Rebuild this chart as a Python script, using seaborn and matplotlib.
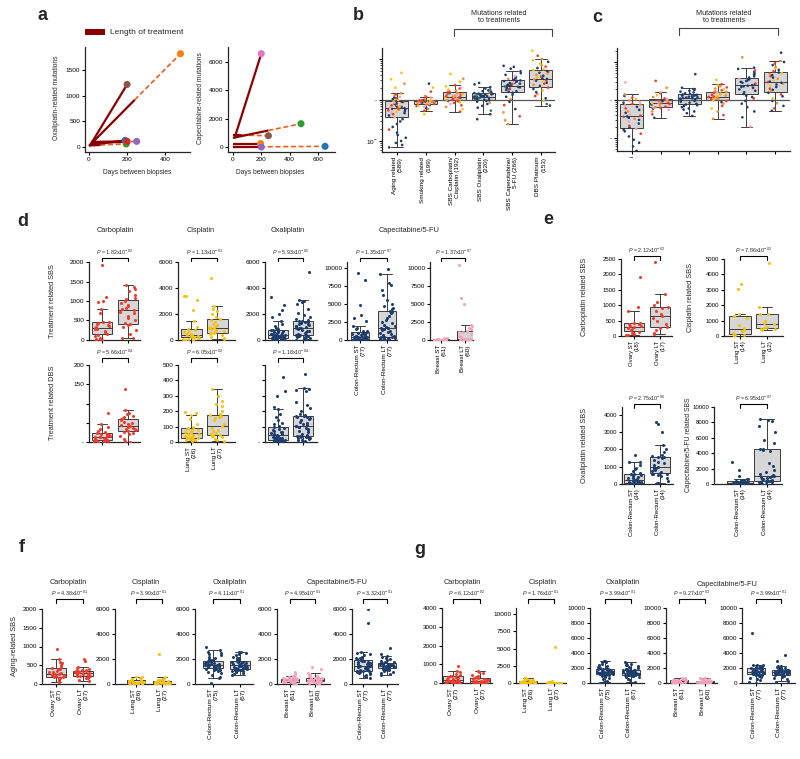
import numpy as np
import pandas as pd
import matplotlib
matplotlib.use("Agg")
import matplotlib.pyplot as plt
import matplotlib.transforms as mtransforms
from matplotlib.patches import Rectangle
from matplotlib.ticker import NullFormatter
import seaborn as sns

# ---------------- panel a: mutations vs days between biopsies ----------------
a_ox_colors = ["tab:blue", "tab:orange", "tab:green", "tab:red", "tab:purple", "tab:brown"]
a_ox_start_day = [0, 0, 0, 10, 15, 10]
a_ox_start = [40, 20, 30, 100, 80, 60]
a_ox_treat_day = [190, 240, 60, 200, 180, 200]
a_ox_treat_mut = [130, 920, 40, 110, 100, 1220]
a_ox_days = [190, 480, 195, 200, 250, 200]
a_ox_end = [130, 1820, 60, 110, 110, 1220]

a_cap_colors = ["tab:blue", "tab:orange", "tab:green", "tab:purple", "tab:brown", "tab:pink"]
a_cap_start_day = [0, 0, 0, 0, 0, 10]
a_cap_start = [0, 250, 650, 0, 850, 600]
a_cap_treat_day = [30, 195, 250, 200, 60, 200]
a_cap_treat_mut = [5, 250, 1170, 0, 840, 6600]
a_cap_days = [650, 195, 480, 200, 250, 200]
a_cap_end = [50, 250, 1650, 0, 800, 6600]

# ---------------- panel b: fold change per signature group ----------------
b_labels = ["Aging related\n(589)", "Smoking related\n(199)", "SBS Carboplatin/\nCisplatin (192)",
            "SBS Oxaliplatin\n(220)", "SBS Capecitabine/\n5-FU (266)", "DBS Platinum\n(153)"]
b_aging = [0.07, 0.08, 0.09, 0.1, 0.12, 0.14, 0.16, 0.19, 0.22, 0.26, 0.3, 0.34, 0.38,
           0.42, 0.45, 0.48, 0.5, 0.52, 0.54, 0.56, 0.58, 0.6, 0.61, 0.62, 0.63,
           0.64, 0.66, 0.68, 0.7, 0.72, 0.74, 0.77, 0.8, 0.83, 0.86, 0.89, 0.9, 0.94,
           1.0, 1.05, 1.1, 1.15, 1.2, 1.3, 1.38, 1.45, 2.0, 2.5, 3.2, 4.6]
b_aging_type = "NNNNNNNRNNNNP" "NRNPYNRONNRN" "PRNYNRONNPRNY" "YNRNPOROYOYY"
b_smoking = [0.45, 0.55, 0.6, 0.64, 0.68, 0.71, 0.73, 0.75, 0.77, 0.78,
             0.8, 0.82, 0.84, 0.86, 0.87, 0.88, 0.89, 0.9, 0.91, 0.92,
             0.93, 0.94, 0.94, 0.95, 0.95, 0.96, 0.96, 0.97, 0.97, 0.97,
             0.98, 1.0, 1.05, 1.1, 1.15, 1.2, 1.25, 1.6, 2.0, 2.5]
b_smoking_type = "YRONPRYNOR" "RPONYRGORN" "OPRNYROPNR" "RNOYPRORYN"
b_carbo = [0.52, 0.6, 0.68, 0.74, 0.8, 0.85, 0.88, 0.91, 0.94, 0.96,
           0.98, 1.0, 1.03, 1.06, 1.09, 1.12, 1.14, 1.16, 1.18, 1.2,
           1.22, 1.25, 1.28, 1.31, 1.35, 1.39, 1.43, 1.47, 1.5, 1.54,
           1.6, 1.7, 1.8, 1.9, 2.0, 2.15, 2.3, 2.8, 3.3, 4.3]
b_carbo_type = "RYORPRYOGR" "ORYRPONRYR" "YROPRYRGOR" "ROYRPYRYOY"
b_oxali = [0.34, 0.45, 0.55, 0.65, 0.72, 0.8, 0.86, 0.91, 0.95, 0.99,
           1.02, 1.05, 1.08, 1.1, 1.12, 1.14, 1.16, 1.18, 1.19, 1.2,
           1.21, 1.23, 1.25, 1.27, 1.29, 1.32, 1.35, 1.38, 1.41, 1.43,
           1.47, 1.52, 1.58, 1.65, 1.72, 1.8, 1.9, 2.05, 2.4, 2.6]
b_oxali_type = "NNGNNNONNN" "NNNGNNNNON" "NNNNGNNNNN" "NONNNGNNNN"
b_cape = [0.26, 0.32, 0.4, 0.5, 0.6, 0.75, 0.9, 1.05, 1.2, 1.35, 1.5,
          1.57, 1.63, 1.7, 1.77, 1.84, 1.9, 1.97, 2.03, 2.09, 2.14, 2.19,
          2.23, 2.3, 2.37, 2.44, 2.5, 2.58, 2.66, 2.74, 2.82, 2.9, 2.96,
          3.0, 3.1, 3.25, 3.4, 3.6, 3.8, 4.1, 4.5, 5.0, 5.8, 6.4, 6.8]
b_cape_type = "OORONRNONNN" "NNPNNRNNNGN" "NNNRNNNPNNN" "NNONNPNNNNNN"
b_dbs = [0.73, 0.8, 0.95, 1.1, 1.25, 1.4, 1.55, 1.7, 1.85, 2.0,
         2.1, 2.2, 2.35, 2.5, 2.65, 2.8, 2.95, 3.05, 3.15, 3.25,
         3.35, 3.5, 3.7, 3.9, 4.1, 4.35, 4.6, 4.85, 5.1, 5.3,
         5.6, 6.0, 6.5, 7.0, 7.7, 8.5, 9.3, 10.0, 12.0, 15.9]
b_dbs_type = "NGYNRONYNR" "YNORNYNRON" "NYRNOYNRNY" "YNROYNYORY"

# ---------------- panel c ----------------
c_aging = [0.046, 0.06, 0.075, 0.09, 0.11, 0.13, 0.15, 0.165, 0.175,
           0.19, 0.21, 0.24, 0.27, 0.3, 0.32, 0.34, 0.36, 0.37,
           0.39, 0.42, 0.46, 0.5, 0.55, 0.6, 0.66, 0.72, 0.76,
           0.8, 0.85, 0.9, 0.97, 1.05, 1.15, 1.28, 1.41, 2.9]
c_aging_type = "NNNNNRNNP" "NRNPNONRN" "RPNONRNPO" "RNPOYRNOP"
c_smoking = [0.34, 0.42, 0.5, 0.55, 0.59, 0.61, 0.63, 0.64,
             0.67, 0.7, 0.73, 0.76, 0.79, 0.82, 0.84,
             0.86, 0.88, 0.91, 0.94, 0.97, 1.0, 1.03,
             1.06, 1.1, 1.2, 1.35, 1.5, 1.62, 2.1, 3.2]
c_smoking_type = "NROPNRPO" "RPONRYP" "ORPNROY" "PROYRPOR"
c_carbo = [0.38, 0.45, 0.5, 0.56, 0.6, 0.65, 0.69, 0.73, 0.76,
           0.8, 0.85, 0.9, 0.95, 1.0, 1.04, 1.08, 1.11, 1.14,
           1.16, 1.19, 1.22, 1.25, 1.28, 1.31, 1.34, 1.37, 1.4,
           1.45, 1.5, 1.58, 1.66, 1.75, 1.85, 1.95, 2.1, 4.8]
c_carbo_type = "NNNNNNNNN" "NNNNNNNNN" "NNNNNNNNN" "NNNNNNNNN"
c_oxali = [0.32, 0.4, 0.5, 0.6, 0.7, 0.8, 0.88, 0.94, 0.99,
           1.02, 1.05, 1.08, 1.11, 1.14, 1.16, 1.18, 1.2, 1.21,
           1.23, 1.27, 1.32, 1.37, 1.42, 1.48, 1.54, 1.6, 1.64,
           1.7, 1.8, 1.9, 2.0, 2.15, 2.3, 2.45, 2.6, 3.4]
c_oxali_type = "OROYRONRO" "YRORPOYRO" "RYOROYRPO" "ORYOROYRY"
c_cape = [0.2, 0.35, 0.5, 0.65, 0.8, 0.95, 1.1, 1.2, 1.3,
          1.45, 1.6, 1.75, 1.9, 2.0, 2.1, 2.2, 2.3, 2.38,
          2.45, 2.55, 2.7, 2.85, 3.0, 3.15, 3.3, 3.5, 3.65,
          3.9, 4.2, 4.6, 5.0, 5.5, 6.0, 6.6, 7.1, 13.3]
c_cape_type = "PNNNNNRNN" "NNNNPNNNN" "NNRNNNNNP" "NNNNNRNNO"
c_dbs = [0.52, 0.6, 0.7, 0.82, 0.95, 1.1, 1.25, 1.4, 1.55,
         1.7, 1.85, 2.0, 2.2, 2.4, 2.55, 2.7, 2.85, 2.95,
         3.05, 3.3, 3.6, 3.9, 4.2, 4.5, 4.8, 5.1, 5.3,
         5.7, 6.2, 6.8, 7.5, 8.3, 9.2, 10.0, 10.8, 17.6]
c_dbs_type = "NRNONYNRN" "ONRNYNONR" "NYONRNOYN" "RNYONRNON"

# ---------------- panel d: treatment related SBS / DBS ----------------
d_carbo_sbs_st = [5, 10, 20, 30, 60, 100, 140, 160, 200, 240, 270, 290, 310, 320, 340, 370, 390,
                  420, 440, 450, 460, 700, 800, 980, 1000, 1100, 1920]
d_carbo_sbs_lt = [40, 60, 150, 250, 330, 380, 410, 430, 500, 560, 620, 680, 730, 770, 790, 820, 860,
                  900, 960, 1000, 1040, 1080, 1150, 1250, 1300, 1350, 1400]
d_cis_sbs_st = [10, 30, 60, 100, 150, 180, 200, 220, 250, 300, 330, 370, 390, 410, 450, 500, 600,
                700, 800, 870, 1000, 1450, 2300, 3100, 3350, 3400]
d_cis_sbs_lt = [80, 150, 250, 350, 450, 500, 540, 560, 620, 700, 780, 850, 900, 950, 980, 1050, 1150,
                1250, 1400, 1550, 1650, 1800, 2000, 2200, 2400, 2600, 4750]
d_ox_sbs_st = [0, 10, 20, 30, 40, 60, 80, 100, 120, 140, 160, 180, 200, 220, 240, 260, 280, 300, 320,
               340, 350, 370, 380, 400, 420, 450, 480, 510, 540, 580, 620, 660, 700, 740, 800, 880,
               950, 1050, 1200, 1460, 1800, 2000, 2300, 2700, 3300]
d_ox_sbs_lt = [0, 30, 60, 100, 150, 200, 240, 280, 310, 340, 360, 380, 420, 480, 540, 600, 660, 720,
               780, 840, 890, 920, 950, 1000, 1050, 1100, 1150, 1200, 1260, 1320, 1380, 1420, 1440,
               1460, 1500, 1600, 1750, 1900, 2100, 2400, 2800, 2950, 3000, 3050, 5200]
d_cape_colon_st = [0, 0, 10, 20, 30, 40, 50, 60, 70, 90, 110, 130, 150, 180, 200, 230, 260, 290, 320,
                   350, 380, 420, 460, 500, 560, 620, 680, 740, 800, 860, 920, 980, 1020, 1100, 1200,
                   1300, 1500, 1700, 1950, 2600, 3000, 3500, 4900, 8300, 9300]
d_cape_colon_lt = [0, 50, 100, 150, 200, 250, 300, 330, 360, 380, 390, 400, 500, 650, 800, 950, 1100,
                   1250, 1400, 1500, 1600, 1650, 1700, 1800, 1950, 2100, 2300, 2500, 2800, 3100, 3400,
                   3700, 3900, 4100, 4300, 4500, 4700, 5000, 5500, 6200, 7000, 7700, 7900, 9200, 9900]
d_cape_breast_st = [0, 0, 0, 0, 0, 0, 0, 0, 0, 0, 0, 0, 20, 40, 60, 100, 150, 200, 250, 300]
d_cape_breast_lt = [0, 0, 0, 0, 0, 0, 0, 0, 10, 20, 40, 60, 80, 100, 120, 150, 200, 400, 600, 900,
                    1100, 1150, 1300, 1500, 1700, 1900, 2100, 5000, 5800, 10500]
d_carbo_dbs_st = [0, 1, 2, 3, 4, 5, 5, 6, 8, 9, 10, 12, 13, 14, 15, 16, 17, 18, 20, 22, 23, 25, 28,
                  33, 40, 47, 75]
d_carbo_dbs_lt = [0, 3, 8, 15, 20, 24, 27, 29, 31, 33, 35, 37, 39, 41, 44, 47, 50, 53, 57, 60, 62,
                  65, 68, 72, 76, 83, 137]
d_cis_dbs_st = [5, 10, 15, 18, 20, 24, 26, 30, 35, 40, 45, 50, 55, 60, 65, 70, 75, 80, 85, 90, 100,
                120, 150, 178, 190, 195]
d_cis_dbs_lt = [5, 10, 20, 30, 38, 42, 44, 46, 50, 60, 70, 80, 90, 102, 120, 140, 155, 165, 170, 175,
                181, 200, 235, 245, 265, 300, 347]
d_ox_dbs_st = [0, 0, 2, 4, 6, 8, 10, 11, 12, 13, 14, 15, 17, 19, 21, 23, 25, 28, 31, 34, 37, 40, 43,
               46, 50, 54, 58, 62, 67, 72, 78, 85, 92, 98, 105, 115, 125, 140, 160, 185, 213, 230,
               300, 330, 425]
d_ox_dbs_lt = [0, 5, 10, 15, 20, 24, 27, 30, 32, 34, 36, 37, 45, 55, 65, 72, 80, 86, 92, 97, 100, 102,
               104, 110, 118, 125, 132, 140, 148, 155, 160, 165, 168, 169, 175, 185, 200, 220, 240,
               260, 330, 335, 345, 350, 440]

# ---------------- panel e: matched pairs ----------------
e_carbo_st = [20, 40, 60, 100, 140, 180, 220, 260, 290, 310, 340, 380, 400, 420, 430, 800, 950, 1920]
e_carbo_lt = [80, 100, 200, 260, 300, 400, 500, 600, 650, 700, 800, 900, 950, 1000, 1100, 1350, 2400]
e_cis_st = [20, 50, 80, 100, 180, 300, 400, 500, 700, 1200, 1300, 1450, 3050, 3400]
e_cis_lt = [400, 450, 480, 510, 600, 750, 850, 1000, 1400, 1420, 1900, 4750]
e_ox_st = [0, 10, 20, 30, 40, 50, 60, 70, 80, 90, 110, 130, 150, 170, 190, 210, 230, 250, 280, 320,
           360, 400, 450, 500, 550, 580, 650, 750, 850, 950, 1100, 1250, 1300, 1700]
e_ox_lt = [30, 80, 200, 350, 450, 520, 560, 580, 600, 650, 700, 750, 800, 850, 900, 930, 950, 970,
           1000, 1100, 1200, 1300, 1400, 1480, 1540, 1570, 1600, 1700, 1850, 2000, 2250, 3000, 3450,
           3600]
e_cape_st = [0, 0, 0, 0, 5, 10, 15, 20, 25, 30, 40, 50, 60, 70, 80, 90, 95, 105, 120, 140, 160, 200,
             250, 300, 340, 360, 400, 450, 500, 600, 700, 1000, 1800, 2800]
e_cape_lt = [0, 50, 100, 200, 250, 300, 350, 400, 430, 500, 600, 700, 800, 850, 900, 1000, 1050, 1150,
             1300, 1500, 1800, 2300, 2700, 4300, 4400, 4550, 4600, 5300, 5700, 6700, 7500, 8200,
             8300, 8500]

# ---------------- panel f: aging-related SBS ----------------
f_carbo_st = [60, 90, 110, 130, 150, 170, 185, 195, 210, 230, 240, 250, 260, 270, 290, 310, 330, 360,
              390, 410, 430, 460, 500, 550, 600, 680, 940]
f_carbo_lt = [90, 120, 150, 170, 190, 205, 215, 225, 240, 255, 265, 280, 290, 300, 310, 320, 330, 340,
              350, 355, 365, 380, 400, 430, 460, 620, 660]
f_cis_st = [0, 10, 20, 30, 50, 60, 70, 80, 90, 100, 120, 130, 140, 160, 170, 190, 210, 240, 270, 300,
            330, 380, 420, 480, 550, 600]
f_cis_lt = [0, 0, 0, 0, 0, 5, 10, 15, 20, 25, 30, 40, 45, 50, 60, 80, 100, 130, 170, 230, 270, 300,
            350, 400, 480, 550, 2400]
f_ox_st = [100, 480, 600, 750, 850, 950, 1050, 1100, 1150, 1200, 1240, 1270, 1300, 1330, 1360, 1390,
           1410, 1430, 1450, 1470, 1480, 1490, 1500, 1520, 1550, 1580, 1610, 1640, 1680, 1720, 1760,
           1800, 1830, 1850, 1900, 1950, 2000, 2100, 2200, 2300, 2400, 2500, 2600, 2700, 3000]
f_ox_lt = [700, 800, 880, 950, 1000, 1040, 1080, 1110, 1140, 1160, 1180, 1200, 1230, 1260, 1290, 1320,
           1350, 1380, 1410, 1440, 1460, 1480, 1500, 1530, 1560, 1590, 1620, 1650, 1690, 1730, 1770,
           1800, 1830, 1850, 1900, 1950, 2000, 2050, 2100, 2200, 2300, 2400, 2450, 2550, 2600]
f_breast_st = [30, 60, 100, 130, 150, 170, 185, 195, 210, 230, 250, 270, 290, 310, 325, 335, 350, 365,
               380, 395, 405, 415, 430, 460, 500, 550, 600, 650, 800, 950]
f_breast_lt = [40, 80, 110, 140, 160, 180, 190, 198, 215, 240, 260, 280, 300, 315, 325, 335, 350, 370,
               400, 430, 470, 495, 520, 560, 620, 680, 760, 850, 1200, 1400]
f_colon_st = [450, 550, 650, 750, 820, 880, 920, 960, 990, 1010, 1030, 1050, 1100, 1150, 1200, 1250,
              1290, 1330, 1370, 1400, 1420, 1440, 1450, 1480, 1520, 1560, 1600, 1640, 1690, 1740,
              1790, 1830, 1870, 1900, 1950, 2000, 2050, 2100, 2200, 2300, 2400, 2500, 2600, 4900, 6000]
f_colon_lt = [700, 800, 900, 980, 1040, 1090, 1130, 1170, 1200, 1220, 1240, 1250, 1270, 1290, 1310,
              1330, 1350, 1370, 1390, 1410, 1420, 1440, 1450, 1460, 1480, 1500, 1520, 1540, 1560,
              1580, 1600, 1620, 1640, 1650, 1700, 1750, 1800, 1850, 1900, 2000, 2100, 2200, 2250,
              2400, 2900]

# ---------------- panel g ----------------
g_carbo_st = [0, 0, 10, 20, 30, 40, 45, 55, 70, 90, 110, 130, 140, 150, 170, 200, 230, 260, 300, 340,
              360, 400, 450, 500, 600, 650, 900]
g_carbo_lt = [0, 0, 0, 0, 0, 0, 0, 0, 10, 30, 50, 70, 90, 100, 120, 150, 180, 210, 240, 260, 280, 320,
              380, 450, 520, 580, 620]
g_cis_st = [0, 0, 0, 10, 20, 40, 60, 80, 100, 110, 120, 140, 145, 155, 170, 200, 230, 270, 320, 370,
            420, 500, 580, 650, 720, 790]
g_cis_lt = [0, 0, 0, 0, 0, 0, 0, 0, 0, 0, 0, 0, 0, 5, 10, 15, 20, 25, 30, 40, 50, 60, 80, 100, 200,
            300, 5200]
g_ox_st = [0, 150, 300, 500, 700, 850, 950, 1030, 1090, 1130, 1160, 1190, 1220, 1250, 1280, 1310, 1340,
           1370, 1390, 1410, 1425, 1440, 1450, 1470, 1500, 1540, 1580, 1620, 1670, 1720, 1770, 1820,
           1860, 1890, 1950, 2020, 2100, 2200, 2300, 2450, 2600, 2750, 2850, 2900, 2950]
g_ox_lt = [200, 400, 600, 750, 850, 920, 970, 1010, 1040, 1070, 1090, 1100, 1130, 1160, 1190, 1220,
           1250, 1280, 1310, 1340, 1360, 1380, 1400, 1430, 1460, 1490, 1520, 1560, 1600, 1640, 1680,
           1720, 1760, 1800, 1850, 1900, 1960, 2050, 2150, 2250, 2350, 2450, 2550, 2700, 2800]
g_breast_st = [0, 20, 50, 80, 100, 120, 135, 145, 155, 170, 190, 210, 225, 240, 245, 255, 265, 280,
               300, 320, 335, 345, 360, 390, 420, 460, 520, 580, 650, 700]
g_breast_lt = [0, 10, 30, 50, 70, 85, 95, 100, 110, 130, 150, 165, 180, 190, 195, 205, 215, 230, 250,
               270, 290, 310, 330, 360, 400, 450, 500, 560, 620, 700]
g_colon_st = [0, 150, 350, 550, 700, 850, 950, 1020, 1070, 1100, 1130, 1150, 1180, 1220, 1260, 1300,
              1340, 1370, 1400, 1430, 1450, 1480, 1500, 1530, 1570, 1610, 1650, 1700, 1750, 1800,
              1850, 1880, 1910, 1940, 1980, 2030, 2080, 2140, 2200, 2260, 2320, 2380, 2420, 2460, 6700]
g_colon_lt = [100, 300, 500, 650, 780, 870, 940, 1000, 1040, 1070, 1090, 1110, 1140, 1170, 1200, 1230,
              1260, 1290, 1320, 1350, 1370, 1390, 1410, 1430, 1460, 1490, 1520, 1550, 1580, 1610,
              1640, 1670, 1690, 1710, 1750, 1800, 1870, 1950, 2030, 2110, 2190, 2250, 2300, 3000, 3700]

# ---------------- style ----------------
W, H = 800, 759
RED, YELLOW, NAVY, PINK = "#ee3b2c", "#f5c211", "#1d3d6f", "#f4a1be"
PAL = {"N": NAVY, "R": RED, "Y": YELLOW, "P": PINK, "O": "#f28c28", "G": "#2e7d4f"}
BOX_FILL, BOX_LINE = "#d6d6d6", "#3c3c3c"
TICK, TITLE, YLAB, PTXT = 4.6, 5.3, 5.3, 3.9

sns.set_style("ticks")
plt.rcParams["font.family"] = ["Liberation Sans", "DejaVu Sans"]
plt.rcParams["mathtext.fontset"] = "custom"
plt.rcParams["mathtext.rm"] = "Liberation Sans"
plt.rcParams["mathtext.it"] = "Liberation Sans:italic"
plt.rcParams["mathtext.bf"] = "Liberation Sans:bold"
plt.rcParams["axes.linewidth"] = 0.9
np.random.seed(7)  # stripplot jitter only

fig = plt.figure(figsize=(W / 100, H / 100), dpi=100)


def px_ax(x0, y0, x1, y1):
    return fig.add_axes([x0 / W, 1 - y1 / H, (x1 - x0) / W, (y1 - y0) / H])


def style(ax, tick=TICK):
    sns.despine(ax=ax)
    ax.set_xlabel("")
    ax.set_ylabel("")
    ax.tick_params(axis="both", labelsize=tick, length=2.2, width=0.8, pad=1.2, colors="black")


def box_pair(ax, st, lt, color, xlim, ylim, yticks, ytlabels=None, xlabels=None,
             xsize=6.0, width=0.8, jitter=0.3, tick=TICK):
    df = pd.DataFrame({"grp": ["ST"] * len(st) + ["LT"] * len(lt),
                       "val": list(st) + list(lt)})
    sns.boxplot(data=df, x="grp", y="val", ax=ax, color=BOX_FILL, linecolor=BOX_LINE,
                linewidth=0.7, width=width, showfliers=False, saturation=1)
    sns.stripplot(data=df, x="grp", y="val", ax=ax, color=color, size=2.2, jitter=jitter,
                  linewidth=0, zorder=3)
    ax.set_xlim(xlim)
    ax.set_ylim(ylim)
    ax.set_yticks(yticks)
    if ytlabels is not None:
        ax.set_yticklabels(ytlabels)
    ax.set_xticks([0, 1])
    if xlabels is None:
        ax.set_xticklabels(["", ""])
    else:
        ax.set_xticklabels(xlabels, rotation=90, fontsize=xsize, ha="center", va="top",
                           multialignment="right")
    style(ax, tick)
    return ax


def p_bracket(ax, y_px, ptext, drop=3.5):
    tr = mtransforms.blended_transform_factory(ax.transData, fig.transFigure)
    ytop = 1 - y_px / H
    ybot = 1 - (y_px + drop) / H
    ax.plot([0, 0, 1, 1], [ybot, ytop, ytop, ybot], color="black", lw=0.8,
            transform=tr, clip_on=False)
    ax.text(0.5, 1 - (y_px - 3.5) / H, ptext, transform=tr, ha="center", va="baseline",
            fontsize=PTXT)


def pstr(m, e):
    return r"$P$ = " + m + r"x10$^{" + e + r"}$"


def log_box(ax, groups, codes, xlim, ylim, labels, ytlabels, xsize):
    names = [f"g{i}" for i in range(len(groups))]
    vals, grp, hue = [], [], []
    for name, g, c in zip(names, groups, codes):
        assert len(g) == len(c), (name, len(g), len(c))
        vals += list(g)
        grp += [name] * len(g)
        hue += list(c)
    df = pd.DataFrame({"grp": grp, "val": vals, "code": hue})
    sns.boxplot(data=df, x="grp", y="val", ax=ax, color=BOX_FILL, linecolor=BOX_LINE,
                linewidth=0.7, width=0.8, showfliers=False, saturation=1)
    sns.stripplot(data=df, x="grp", y="val", hue="code", palette=PAL, ax=ax, size=1.9,
                  jitter=0.32, linewidth=0, legend=False, zorder=3)
    ax.set_yscale("log")
    ax.axhline(1, color="#555555", lw=0.9, zorder=2.5)
    ax.set_xlim(xlim)
    ax.set_ylim(ylim)
    ax.set_yticks([0.1, 1, 10])
    ax.set_yticklabels(ytlabels)
    ax.yaxis.set_minor_formatter(NullFormatter())
    ax.set_xticks(range(len(groups)))
    ax.set_xticklabels(labels, rotation=90, fontsize=xsize, ha="center", va="top",
                       multialignment="right")
    style(ax)
    ax.tick_params(axis="y", which="minor", length=1.3, width=0.6)


def timeline(ax, sd, s, td, tm, d, e, colors):
    for i in range(len(d)):
        ax.plot([td[i], d[i]], [tm[i], e[i]], color="#e8601c", lw=1.2, ls=(0, (3, 1.6)), zorder=2)
        ax.plot([sd[i], td[i]], [s[i], tm[i]], color="#8b0000", lw=1.6, zorder=3,
                solid_capstyle="butt")
    pts = pd.DataFrame({"day": d, "mut": e, "pid": [str(i) for i in range(len(d))]})
    sns.scatterplot(data=pts, x="day", y="mut", hue="pid", palette=colors, s=26,
                    edgecolor="none", legend=False, ax=ax, zorder=4)
    style(ax)


# ---------------- panel a ----------------
ax = px_ax(85, 47, 190, 152)
timeline(ax, a_ox_start_day, a_ox_start, a_ox_treat_day, a_ox_treat_mut, a_ox_days, a_ox_end, a_ox_colors)
ax.set_xlim(-21, 530)
ax.set_ylim(-97, 1950)
ax.set_xticks([0, 200, 400])
ax.set_yticks([0, 500, 1000, 1500])

ax = px_ax(228, 47, 335, 152)
timeline(ax, a_cap_start_day, a_cap_start, a_cap_treat_day, a_cap_treat_mut, a_cap_days, a_cap_end, a_cap_colors)
ax.set_xlim(-35, 720)
ax.set_ylim(-350, 7070)
ax.set_xticks([0, 200, 400, 600])
ax.set_yticks([0, 2000, 4000, 6000])

# ---------------- panels b / c ----------------
ax = px_ax(382, 48, 555, 152)
log_box(ax, [b_aging, b_smoking, b_carbo, b_oxali, b_cape, b_dbs],
        [b_aging_type, b_smoking_type, b_carbo_type, b_oxali_type, b_cape_type, b_dbs_type],
        (-0.52, 5.49), (0.054, 18.5), b_labels, [r"$10^{-}$", "-", ""], 4.5)

ax = px_ax(617, 48, 790, 151)
log_box(ax, [c_aging, c_smoking, c_carbo, c_oxali, c_cape, c_dbs],
        [c_aging_type, c_smoking_type, c_carbo_type, c_oxali_type, c_cape_type, c_dbs_type],
        (-0.52, 5.52), (0.0455, 23.4), ["i", "", "", "", "", ""], ["-", "-", ""], 2.5)

# ---------------- panel d ----------------
k6 = [0, 2000, 4000, 6000]
k11 = [0, 2500, 5000, 7500, 10000]
ax = box_pair(px_ax(89, 262, 140, 340), d_carbo_sbs_st, d_carbo_sbs_lt, RED, (-0.5, 1.46), (0, 2000),
              [0, 500, 1000, 1500, 2000])
p_bracket(ax, 258, pstr("1.82", "-02"))
ax = box_pair(px_ax(178, 262, 235, 340), d_cis_sbs_st, d_cis_sbs_lt, YELLOW, (-0.5, 1.68), (0, 6000), k6)
p_bracket(ax, 258, pstr("1.13", "-01"))
ax = box_pair(px_ax(265, 262, 317, 340), d_ox_sbs_st, d_ox_sbs_lt, NAVY, (-0.52, 1.56), (0, 6000), k6)
p_bracket(ax, 258, pstr("5.93", "-05"))
ax = box_pair(px_ax(347, 262, 397, 340), d_cape_colon_st, d_cape_colon_lt, NAVY, (-0.48, 1.37),
              (0, 10850), k11, xlabels=["Colon-Rectum ST\n(77)", "Colon-Rectum LT\n(77)"], width=0.7)
p_bracket(ax, 258, pstr("1.35", "-07"))
ax = box_pair(px_ax(430, 262, 473, 340), d_cape_breast_st, d_cape_breast_lt, PINK, (-0.46, 1.33),
              (0, 10850), k11, xlabels=["Breast ST\n(61)", "Breast LT\n(60)"], width=0.7)
p_bracket(ax, 258, pstr("1.37", "-07"))

k5 = [0, 100, 200, 300, 400, 500]
ax = box_pair(px_ax(89, 365, 140, 442), d_carbo_dbs_st, d_carbo_dbs_lt, RED, (-0.5, 1.46), (0, 200),
              [0, 50, 100, 150, 200], ["-", "", "", "150", "200"])
p_bracket(ax, 358, pstr("5.66", "-04"))
ax = box_pair(px_ax(178, 365, 235, 442), d_cis_dbs_st, d_cis_dbs_lt, YELLOW, (-0.5, 1.68), (0, 500), k5,
              xlabels=["Lung ST\n(26)", "Lung LT\n(27)"])
p_bracket(ax, 358, pstr("6.05", "-02"))
ax = box_pair(px_ax(265, 365, 317, 442), d_ox_dbs_st, d_ox_dbs_lt, NAVY, (-0.52, 1.56), (0, 500), k5,
              ["-", "", "", "", "", ""])
p_bracket(ax, 358, pstr("1.18", "-04"))

# ---------------- panel e ----------------
ET = 4.3
ax = box_pair(px_ax(621, 259, 672, 336), e_carbo_st, e_carbo_lt, RED, (-0.5, 1.46), (0, 2500),
              [0, 500, 1000, 1500, 2000, 2500], xlabels=["Ovary ST\n(18)", "Ovary LT\n(17)"], tick=ET)
p_bracket(ax, 256, pstr("2.12", "-02"))
ax = box_pair(px_ax(724, 259, 783, 336), e_cis_st, e_cis_lt, YELLOW, (-0.59, 1.59), (0, 5000),
              [0, 1000, 2000, 3000, 4000, 5000], xlabels=["Lung ST\n(14)", "Lung LT\n(12)"], tick=ET)
p_bracket(ax, 256, pstr("7.86", "-02"))
ax = box_pair(px_ax(622, 407, 673, 484), e_ox_st, e_ox_lt, NAVY, (-0.46, 1.5), (0, 4450),
              [0, 1000, 2000, 3000, 4000], xlabels=["Colon-Rectum ST\n(34)", "Colon-Rectum LT\n(34)"],
              tick=ET)
p_bracket(ax, 404, pstr("2.75", "-06"))
ax = box_pair(px_ax(714, 407, 782, 484), e_cape_st, e_cape_lt, NAVY, (-0.96, 1.55), (0, 10000),
              [0, 2000, 4000, 6000, 8000, 10000], xlabels=["Colon-Rectum ST\n(34)", "Colon-Rectum LT\n(34)"],
              width=0.95, tick=ET)
p_bracket(ax, 404, pstr("6.95", "-07"))

# ---------------- panel f ----------------
FX = 4.7
ax = box_pair(px_ax(42, 609, 95, 684), f_carbo_st, f_carbo_lt, RED, (-0.52, 1.44), (0, 2000),
              [0, 500, 1000, 1500, 2000], xlabels=["Ovary ST\n(27)", "Ovary LT\n(27)"], xsize=FX, width=0.72)
p_bracket(ax, 599, pstr("4.38", "-01"))
ax = box_pair(px_ax(115, 609, 175, 684), f_cis_st, f_cis_lt, YELLOW, (-0.81, 1.5), (0, 6000), k6,
              xlabels=["Lung ST\n(26)", "Lung LT\n(27)"], xsize=FX, width=0.72)
p_bracket(ax, 599, pstr("3.90", "-01"))
ax = box_pair(px_ax(195, 609, 253, 684), f_ox_st, f_ox_lt, NAVY, (-0.67, 1.48), (0, 6000), k6,
              xlabels=["Colon-Rectum ST\n(75)", "Colon-Rectum LT\n(67)"], xsize=FX, width=0.72)
p_bracket(ax, 599, pstr("4.11", "-01"))
ax = box_pair(px_ax(277, 609, 330, 684), f_breast_st, f_breast_lt, PINK, (-0.52, 1.6), (0, 6000), k6,
              xlabels=["Breast ST\n(61)", "Breast LT\n(60)"], xsize=FX, width=0.72)
p_bracket(ax, 599, pstr("4.95", "-01"))
ax = box_pair(px_ax(352, 609, 398, 684), f_colon_st, f_colon_lt, NAVY, (-0.46, 1.46), (0, 6000), k6,
              xlabels=["Colon-Rectum ST\n(77)", "Colon-Rectum LT\n(77)"], xsize=FX, width=0.72)
p_bracket(ax, 599, pstr("3.32", "-01"))

# ---------------- panel g ----------------
k10 = [0, 2000, 4000, 6000, 8000, 10000]
ax = box_pair(px_ax(442, 608, 492, 683), g_carbo_st, g_carbo_lt, RED, (-0.41, 1.44), (0, 4000),
              [0, 1000, 2000, 3000, 4000], xlabels=["Ovary ST\n(27)", "Ovary LT\n(27)"], xsize=FX, width=0.72)
p_bracket(ax, 599, pstr("6.12", "-02"))
ax = box_pair(px_ax(516, 608, 566, 683), g_cis_st, g_cis_lt, YELLOW, (-0.46, 1.46), (0, 10870), k11,
              xlabels=["Lung ST\n(26)", "Lung LT\n(27)"], xsize=FX, width=0.72)
p_bracket(ax, 599, pstr("1.76", "-01"))
ax = box_pair(px_ax(590, 608, 644, 683), g_ox_st, g_ox_lt, NAVY, (-0.58, 1.5), (0, 10000), k10,
              xlabels=["Colon-Rectum ST\n(75)", "Colon-Rectum LT\n(67)"], xsize=FX, width=0.72)
p_bracket(ax, 599, pstr("3.99", "-01"))
ax = box_pair(px_ax(666, 608, 717, 683), g_breast_st, g_breast_lt, PINK, (-0.5, 1.46), (0, 10000), k10,
              xlabels=["Breast ST\n(61)", "Breast LT\n(60)"], xsize=FX, width=0.72)
p_bracket(ax, 599, pstr("9.27", "-03"))
ax = box_pair(px_ax(742, 608, 795, 683), g_colon_st, g_colon_lt, NAVY, (-0.56, 1.56), (0, 10000), k10,
              xlabels=["Colon-Rectum ST\n(77)", "Colon-Rectum LT\n(77)"], xsize=FX, width=0.72)
p_bracket(ax, 599, pstr("3.99", "-01"))

# ---------------- labels / annotations in pixel space ----------------
ov = fig.add_axes([0, 0, 1, 1])
ov.set_xlim(0, W)
ov.set_ylim(H, 0)
ov.axis("off")

for letter, x, y in [("a", 42, 16), ("b", 358, 16), ("c", 597, 17), ("d", 23, 222),
                     ("e", 548, 219), ("f", 22, 547), ("g", 420, 549)]:
    ov.text(x, y, letter, fontsize=13, fontweight="bold", ha="center", va="center")

ov.add_patch(Rectangle((85, 29), 20, 6, color="#8b0000", lw=0))
ov.text(110, 32, "Length of treatment", fontsize=6, va="center", ha="left")
ov.text(57, 98, "Oxaliplatin-related mutations", fontsize=4.8, rotation=90, ha="center", va="center")
ov.text(200, 98, "Capecitabine-related mutations", fontsize=4.8, rotation=90, ha="center", va="center")
ov.text(137, 172, "Days between biopsies", fontsize=4.8, ha="center", va="center")
ov.text(270, 172, "Days between biopsies", fontsize=4.8, ha="center", va="center")

for cx, x0, x1, yb in [(499, 454, 552, 29), (724, 679, 778, 28)]:
    ov.text(cx, 17, "Mutations related\nto treatments", fontsize=5.2, ha="center", va="center",
            linespacing=1.1)
    ov.plot([x0, x0, x1, x1], [yb + 7, yb, yb, yb + 7], color="#444444", lw=0.8)

for t, x, y in [("Carboplatin", 115, 231), ("Cisplatin", 201, 231), ("Oxaliplatin", 288, 231),
                ("Capecitabine/5-FU", 409, 231),
                ("Carboplatin", 68, 583), ("Cisplatin", 146, 583), ("Oxaliplatin", 230, 583),
                ("Capecitabine/5-FU", 337, 583),
                ("Carboplatin", 462, 583), ("Cisplatin", 543, 583), ("Oxaliplatin", 623, 583),
                ("Capecitabine/5-FU", 727, 584)]:
    ov.text(x, y, t, fontsize=TITLE, ha="center", va="center")

for t, x, y, fs in [("Treatment related SBS", 52, 301, YLAB), ("Treatment related DBS", 52, 403, YLAB),
                    ("Carboplatin related SBS", 584, 297, YLAB), ("Cisplatin related SBS", 691, 297, YLAB),
                    ("Oxaliplatin related SBS", 584, 445, YLAB),
                    ("Capecitabine/5-FU related SBS", 688, 445, 4.9),
                    ("Aging-related SBS", 14, 646, YLAB)]:
    ov.text(x, y, t, fontsize=fs, rotation=90, ha="center", va="center")

fig.savefig("out.png", dpi=100)
